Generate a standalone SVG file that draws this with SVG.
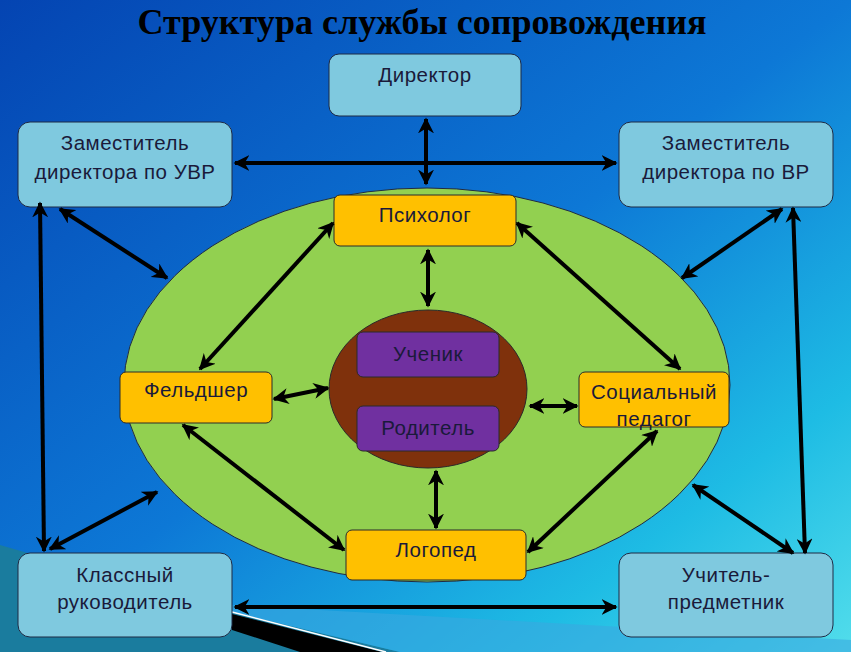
<svg xmlns="http://www.w3.org/2000/svg" width="851" height="652" viewBox="0 0 851 652">
<defs>
<linearGradient id="bg" x1="0" y1="0" x2="1" y2="1">
<stop offset="0" stop-color="#0444B2"/>
<stop offset="0.5" stop-color="#0D78D6"/>
<stop offset="0.8" stop-color="#1EBCE4"/>
<stop offset="1" stop-color="#52DDEB"/>
</linearGradient>
<marker id="ah" viewBox="0 0 10 10" refX="9" refY="5" markerWidth="4" markerHeight="4" orient="auto-start-reverse" markerUnits="strokeWidth">
<path d="M0,0 L10,5 L0,10 L3,5 z" fill="#000"/>
</marker>
</defs>
<style>
.t{font-family:"Liberation Sans",Arial,sans-serif;font-size:20.5px;letter-spacing:0.5px;fill:#1a1a3a;text-anchor:middle}
.blue{fill:#7FC9DF;stroke:#1F2A44;stroke-width:1}
.org{fill:#FFC000;stroke:#2A2A2A;stroke-width:1}
.pur{fill:#7030A0;stroke:#2A2A2A;stroke-width:1}
.c line{stroke:#000;stroke-width:4;marker-start:url(#ah);marker-end:url(#ah)}
</style>
<rect width="851" height="652" fill="url(#bg)"/>
<polygon points="0,545 232,612 400,652 0,652" fill="#1A7C9E"/>
<polygon points="232,605 851,640 851,652 400,652 232,612" fill="#3AA8E0" opacity="0.6"/>
<polygon points="232,614 382,652 300,652 232,630" fill="#000"/>
<line x1="232" y1="612" x2="386" y2="652" stroke="#fff" stroke-width="1.5"/>
<text x="422" y="34" font-family="'Liberation Serif','Times New Roman',serif" font-size="35" font-weight="bold" text-anchor="middle" fill="#000" textLength="569" lengthAdjust="spacingAndGlyphs">Структура службы сопровождения</text>
<g id="outer-ellipse"><ellipse cx="427" cy="385" rx="303" ry="197" fill="#92D050" stroke="#1F2A44" stroke-width="1"/></g>
<g id="inner-circle"><ellipse cx="428" cy="389" rx="99" ry="79" fill="#7F310C" stroke="#2A2A2A" stroke-width="1"/></g>
<g id="director"><rect class="blue" x="329" y="54" width="192" height="62" rx="10"/><text class="t" x="425" y="82">Директор</text></g>
<g id="zam-uvr"><rect class="blue" x="18" y="122" width="214" height="85" rx="12"/><text class="t" x="125" y="150">Заместитель</text><text class="t" x="125" y="179">директора по УВР</text></g>
<g id="zam-vr"><rect class="blue" x="619" y="122" width="214" height="85" rx="12"/><text class="t" x="726" y="150">Заместитель</text><text class="t" x="726" y="179">директора по ВР</text></g>
<g id="klassny"><rect class="blue" x="18" y="553" width="214" height="84" rx="12"/><text class="t" x="125" y="582">Классный</text><text class="t" x="125" y="609">руководитель</text></g>
<g id="uchitel"><rect class="blue" x="619" y="553" width="214" height="84" rx="12"/><text class="t" x="726" y="582">Учитель-</text><text class="t" x="726" y="609">предметник</text></g>
<g id="psiholog"><rect class="org" x="334" y="195" width="182" height="51" rx="6"/><text class="t" x="425" y="222">Психолог</text></g>
<g id="feldsher"><rect class="org" x="120" y="372" width="152" height="51" rx="6"/><text class="t" x="196" y="397">Фельдшер</text></g>
<g id="socped"><rect class="org" x="579" y="372" width="150" height="55" rx="6"/><text class="t" x="654" y="399">Социальный</text><text class="t" x="654" y="426">педагог</text></g>
<g id="logoped"><rect class="org" x="346" y="530" width="180" height="50" rx="6"/><text class="t" x="436" y="557">Логопед</text></g>
<g id="uchenik"><rect class="pur" x="357" y="332" width="142" height="45" rx="6"/><text class="t" x="428" y="361">Ученик</text></g>
<g id="roditel"><rect class="pur" x="357" y="406" width="142" height="45" rx="6"/><text class="t" x="428" y="435">Родитель</text></g>
<g id="connectors" class="c">
<line x1="426" y1="119" x2="426" y2="184"/>
<line x1="235" y1="163" x2="616" y2="163"/>
<line x1="60" y1="209" x2="167" y2="278"/>
<line x1="40" y1="203" x2="44" y2="551"/>
<line x1="782" y1="209" x2="682" y2="278"/>
<line x1="793" y1="208" x2="805" y2="553"/>
<line x1="693" y1="485" x2="793" y2="553"/>
<line x1="50" y1="549" x2="157" y2="492"/>
<line x1="235" y1="607" x2="616" y2="607"/>
<line x1="428" y1="250" x2="428" y2="306"/>
<line x1="333" y1="223" x2="200" y2="369"/>
<line x1="517" y1="223" x2="680" y2="369"/>
<line x1="274" y1="399" x2="328" y2="388"/>
<line x1="530" y1="406" x2="577" y2="406"/>
<line x1="183" y1="425" x2="344" y2="550"/>
<line x1="657" y1="431" x2="528" y2="552"/>
<line x1="436" y1="471" x2="436" y2="528"/>
</g>
</svg>
